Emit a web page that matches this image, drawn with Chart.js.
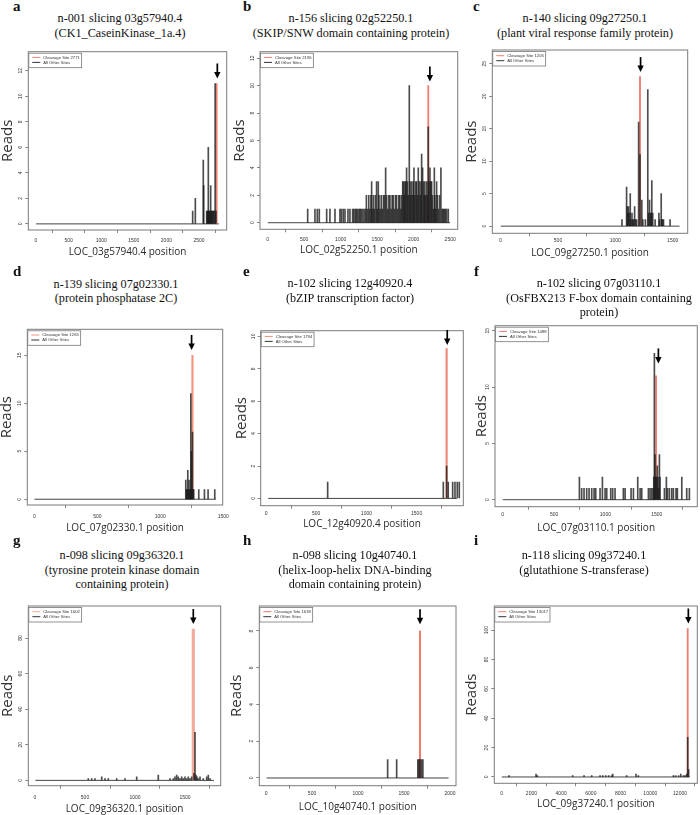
<!DOCTYPE html>
<html><head><meta charset="utf-8">
<script src="https://cdn.jsdelivr.net/npm/chart.js@4.4.0/dist/chart.umd.min.js"></script>
<style>
body{margin:0;background:#fff;width:700px;height:815px;position:relative;overflow:hidden;}
.ttl{position:absolute;text-align:center;font-family:'Liberation Serif',serif;font-size:12.2px;line-height:14.5px;color:#111;white-space:nowrap;transform:translateX(-50%);}
.lt{position:absolute;font-family:'Liberation Serif',serif;font-weight:bold;font-size:15px;line-height:15px;color:#111;}
</style></head><body>
<script>
// ---------- DATA ----------
const panelLetters = ['a','b','c','d','e','f','g','h','i'];
const titleLines = [
  ['n-001 slicing 03g57940.4','(CK1_CaseinKinase_1a.4)'],
  ['n-156 slicing 02g52250.1','(SKIP/SNW domain containing protein)'],
  ['n-140 slicing 09g27250.1','(plant viral response family protein)'],
  ['n-139 slicing 07g02330.1','(protein phosphatase 2C)'],
  ['n-102 slicing 12g40920.4','(bZIP transcription factor)'],
  ['n-102 slicing 07g03110.1','(OsFBX213 F-box domain containing','protein)'],
  ['n-098 slicing 09g36320.1','(tyrosine protein kinase domain','containing protein)'],
  ['n-098 slicing 10g40740.1','(helix-loop-helix DNA-binding','domain containing protein)'],
  ['n-118 slicing 09g37240.1','(glutathione S-transferase)']
];
const xAxisTitles = ['LOC_03g57940.4 position','LOC_02g52250.1 position','LOC_09g27250.1 position',
  'LOC_07g02330.1 position','LOC_12g40920.4 position','LOC_07g03110.1 position',
  'LOC_09g36320.1 position','LOC_10g40740.1 position','LOC_09g37240.1 position'];
const yAxisTitle = 'Reads';
const cleavageLabels = ['Cleavage Site 2771','Cleavage Site 2196','Cleavage Site 1205','Cleavage Site 1265',
  'Cleavage Site 1794','Cleavage Site 1488','Cleavage Site 1602','Cleavage Site 1639','Cleavage Site 13017'];
const otherLabel = 'All Other Sites';

const cleavagePos   = [2771, 2200, 1215, 1255, 1799, 1494, 1583, 1674, 12517];
const cleavageReads = [11, 10, 23, 15, 9.25, 11, 85, 8, 101];
const transcriptStart = [1, 1, 1, 1, 22, 1, 4, 6, 8];
const transcriptEnd   = [2805, 2500, 1560, 1440, 1900, 1825, 1790, 1985, 12655];
const arrowPos = [2781, 2222, 1220, 1248, 1805, 1516, 1583, 1674, 12560];
const arrowTip = [11.4, 10.3, 23.7, 15.55, 9.47, 12.1, 87.9, 8.36, 104.5];

const otherSitesA = [[2403,1],[2444,2],[2566,5],[2572,3],[2618,1],[2628,1],[2636,1],[2643,6],[2652,1],[2662,1],
  [2672,1],[2679,3],[2690,1],[2700,1],[2712,1],[2722,1],[2735,1],[2748,11],[2760,1]];
const otherSitesB = [[548,1],[648,1],[680,1],[707,1],[808,1],[853,1],[922,1],[990,1],[1010,1],[1035,1],[1059,1],
  [1100,1],[1127,1],[1164,1],[1180,1],[1200,1],[1215,1],[1230,1],[1250,1],[1265,1],[1280,1],[1300,1],[1320,1],
  [1340,1],[1352,2],[1370,1],[1385,2],[1400,1],[1415,2],[1424,3],[1435,1],[1447,2],[1460,1],[1475,2],[1492,3],
  [1500,1],[1515,3],[1525,2],[1540,1],[1555,2],[1570,1],[1585,2],[1600,2],[1616,4],[1630,2],[1645,1],[1660,2],
  [1675,2],[1690,1],[1705,2],[1720,2],[1735,1],[1750,2],[1765,2],[1780,1],[1795,2],[1810,2],[1825,1],[1835,2],
  [1850,3],[1860,3],[1870,2],[1880,3],[1892,3],[1903,4],[1915,3],[1925,2],[1940,10],[1950,3],[1960,2],[1972,3],
  [1985,2],[1995,3],[2004,4],[2015,2],[2030,3],[2040,3],[2052,2],[2063,4],[2075,3],[2090,2],[2100,3],[2109,5],
  [2122,4],[2135,3],[2145,2],[2154,3],[2165,2],[2180,3],[2190,2],[2200,7],[2210,3],[2223,4],[2235,3],[2246,3],
  [2258,2],[2270,1],[2283,4],[2291,2],[2300,1],[2314,3],[2325,2],[2340,1],[2355,2],[2373,4],[2390,1],[2405,1],
  [2420,1],[2435,1],[2451,1],[2474,1]];
const otherSitesC = [[1058,1],[1098,6],[1104,3],[1110,2],[1116,3],[1124,2],[1130,5],[1136,1],[1145,2],[1152,1],
  [1160,1],[1168,3],[1176,1],[1185,1],[1203,16],[1215,11],[1231,4],[1240,1],[1262,1],[1283,21],[1290,2],[1298,4],
  [1305,2],[1312,2],[1318,7],[1326,2],[1347,1],[1380,2],[1386,1],[1400,5],[1406,1],[1412,1],[1420,1],[1477,1]];
const otherSitesD = [[1202,2],[1207,1],[1212,1],[1218,3],[1223,1],[1228,2],[1233,1],[1238,1],[1242,11],[1246,5],
  [1250,1],[1255,7],[1260,1],[1265,1],[1305,1],[1350,1],[1379,1],[1432,1]];
const otherSitesE = [[614,1],[1766,1],[1799,2],[1815,1],[1859,1],[1882,1],[1905,1],[1925,1]];
const otherSitesF = [[747,2],[769,1],[792,1],[818,1],[841,1],[867,1],[890,1],[906,1],[948,1],[971,2],[997,1],
  [1013,1],[1052,1],[1071,1],[1094,1],[1175,1],[1192,1],[1250,1],[1273,1],[1315,2],[1338,1],[1354,1],[1419,1],
  [1435,1],[1451,1],[1465,1],[1471,2],[1477,13],[1483,4],[1490,2],[1498,2],[1506,3],[1512,2],[1518,1],[1526,4],
  [1532,2],[1575,1],[1594,2],[1604,1],[1623,1],[1646,1],[1662,1],[1688,1],[1701,1],[1744,2],[1792,1],[1818,1]];
const otherSitesG = [[533,1],[567,1],[600,1],[667,2],[700,1],[733,1],[817,1],[900,1],[1017,2],[1233,3],[1350,1],
  [1383,1],[1400,2],[1417,3],[1433,2],[1450,1],[1467,2],[1483,1],[1500,2],[1517,1],[1533,2],[1550,1],[1567,2],
  [1590,4],[1600,27],[1610,3],[1620,2],[1633,1],[1650,2],[1683,1],[1717,2],[1733,3],[1750,1]];
const otherSitesH = [[1322,1],[1420,1],[1650,1],[1662,1],[1674,1],[1690,1],[1705,1]];
const otherSitesI = [[493,1],[2310,2],[2400,1],[4778,1],[5540,1],[6057,1],[6617,1],[6800,1],[7000,1],[7200,1],
  [7400,1],[7470,2],[8412,1],[9040,2],[9197,1],[11552,1],[11700,1],[11900,1],[12050,2],[12225,1],[12337,1],
  [12450,2],[12517,27],[12580,5]];
const otherSites = [otherSitesA,otherSitesB,otherSitesC,otherSitesD,otherSitesE,otherSitesF,otherSitesG,otherSitesH,otherSitesI];

const xTicks = [[0,500,1000,1500,2000,2500],[0,500,1000,1500,2000,2500],[0,500,1000,1500],[0,500,1000,1500],
  [0,500,1000,1500],[0,500,1000,1500],[0,500,1000,1500],[0,500,1000,1500,2000],[0,2000,4000,6000,8000,10000,12000]];
const yTicks = [[0,2,4,6,8,10,12],[0,2,4,6,8,10,12],[0,5,10,15,20,25],[0,5,10,15],[0,2,4,6,8,10],[0,5,10,15],
  [0,20,40,60,80],[0,2,4,6,8],[0,20,40,60,80,100]];
const xRange = [[-118,2925],[-105,2603],[-73,1631],[-56,1495],[-53,1965],[-75,1895],[-67,1857],[-73,2065],[-498,13163]];
const yRange = [[-0.48,13.5],[-0.48,12.48],[-1.1,27.1],[-0.6,17.7],[-0.45,10.35],[-0.62,15.45],[-3,98],[-0.42,9.36],[-4.3,116.4]];

// ---------- LAYOUT / STYLE ----------
const boxes = [[28.3,51.7,226.7,230],[260,51.7,457.7,229.3],[492.3,50,687.7,233.3],
  [27.3,329.3,222.7,505],[260.7,330.7,463.3,505.7],[495,325.7,697.3,506.7],
  [28.3,606,220.7,785.7],[259.3,606,456,785.7],[494.3,606,697.3,783.3]];
const titleCx = [120,351,585,116,350,599,122,355,584];
const titleY1 = [18.3,18.3,18.3,284,283.3,283.3,555.7,555.7,555.7];
const letterX = [13,243,473,13,243,474,13,243,474];
const letterBase = [12,12,12,277,277,277,546,546,546];
const readsOff = [21,20,20.6,20.6,19,13,21,22.6,22.6];
const xTickGap = [10.7,10,7.5,12,7.6,8.3,12.3,7.6,10];
const xTitleGap = [21.7,20.7,20,23.3,18,21.6,23.3,21,21];
const redColor = ['#ee7f72','#ee7f72','#ee7f72','#f2957f','#ee8a78','#ee7f72','#f3ab9b','#ee6f62','#ee7f72'];
const redWidth = [1.2,1.2,1.2,1.5,1.5,1.2,2.5,1.2,1.2];
const barColor = 'rgba(25,25,25,0.78)';

const mctx = document.createElement('canvas').getContext('2d');
mctx.font = '5px "Liberation Sans"';

const decor = {
  id: 'decor',
  afterDatasetsDraw(chart, args, opts) {
    const i = opts.idx;
    const {ctx, chartArea: ca, scales: {x, y}} = chart;
    ctx.save();
    ctx.strokeStyle = '#7a7a7a'; ctx.lineWidth = 1;
    ctx.strokeRect(ca.left, ca.top, ca.right - ca.left, ca.bottom - ca.top);
    // legend
    ctx.font = '4.2px "Liberation Sans"';
    const tw = Math.max(ctx.measureText(cleavageLabels[i]).width, ctx.measureText(otherLabel).width);
    const lx = ca.left + 0.5, ly = ca.top + 1.5, w = 14.5 + tw + 1.8, h = 14.5;
    ctx.fillStyle = '#fff'; ctx.fillRect(lx, ly, w, h);
    ctx.strokeStyle = '#777'; ctx.lineWidth = 0.8; ctx.strokeRect(lx, ly, w, h);
    ctx.lineWidth = 1;
    ctx.strokeStyle = redColor[i];
    ctx.beginPath(); ctx.moveTo(lx + 3.5, ly + 4.2); ctx.lineTo(lx + 11.5, ly + 4.2); ctx.stroke();
    ctx.strokeStyle = '#333';
    ctx.beginPath(); ctx.moveTo(lx + 3.5, ly + 9.2); ctx.lineTo(lx + 11.5, ly + 9.2); ctx.stroke();
    ctx.fillStyle = '#333'; ctx.textBaseline = 'middle'; ctx.textAlign = 'left';
    ctx.fillText(cleavageLabels[i], lx + 14.5, ly + 4.4);
    ctx.fillText(otherLabel, lx + 14.5, ly + 9.4);
    // arrow
    const ax = x.getPixelForValue(arrowPos[i]);
    const ay = y.getPixelForValue(arrowTip[i]);
    ctx.strokeStyle = '#000'; ctx.lineWidth = 1.7;
    ctx.beginPath(); ctx.moveTo(ax, ay - 15); ctx.lineTo(ax, ay - 5); ctx.stroke();
    ctx.fillStyle = '#000';
    ctx.beginPath(); ctx.moveTo(ax - 3.2, ay - 6.5); ctx.lineTo(ax + 3.2, ay - 6.5); ctx.lineTo(ax, ay); ctx.closePath(); ctx.fill();
    ctx.restore();
  }
};

for (let i = 0; i < 9; i++) {
  const t = document.createElement('div');
  t.className = 'ttl';
  t.style.left = titleCx[i] + 'px';
  t.style.top = (titleY1[i] - 7.25) + 'px';
  t.innerHTML = titleLines[i].join('<br>');
  document.body.appendChild(t);
  const l = document.createElement('div');
  l.className = 'lt';
  l.style.left = letterX[i] + 'px';
  l.style.top = (letterBase[i] - 12.6) + 'px';
  l.textContent = panelLetters[i];
  document.body.appendChild(l);

  const b = boxes[i];
  const cl = Math.floor(b[0]) - 34, ct = Math.floor(b[1]) - 6;
  const cr = Math.ceil(b[2]) + 14, cb = Math.ceil(b[3]) + 34;
  const cv = document.createElement('canvas');
  cv.width = cr - cl; cv.height = cb - ct;
  cv.style.cssText = `position:absolute;left:${cl}px;top:${ct}px;width:${cr-cl}px;height:${cb-ct}px;`;
  document.body.appendChild(cv);

  const yW = b[0] - cl, xH = cb - b[3];
  const widest = Math.max(...yTicks[i].map(v => mctx.measureText(String(v)).width));
  const yPad = 7.3 - 3 - widest / 2;
  const yTitlePad = yW - readsOff[i] - 9;
  const xTickPad = xTickGap[i] - 3 - 3;
  const xTitlePadB = xH - xTitleGap[i] - 6;

  new Chart(cv, {
    type: 'bar',
    data: {
      datasets: [
        {type: 'line', label: 'baseline', data: [{x: transcriptStart[i], y: 0}, {x: transcriptEnd[i], y: 0}],
         borderColor: '#444', borderWidth: 1, pointRadius: 0, order: 3},
        {type: 'bar', label: cleavageLabels[i], data: [{x: cleavagePos[i], y: cleavageReads[i]}],
         backgroundColor: redColor[i], barThickness: redWidth[i], grouped: false, borderWidth: 0, order: 2},
        {type: 'bar', label: otherLabel, data: otherSites[i].map(([x, y]) => ({x, y})),
         backgroundColor: barColor, barThickness: 1, grouped: false, borderWidth: 0, order: 1}
      ]
    },
    options: {
      responsive: false, animation: false, devicePixelRatio: 1,
      layout: {autoPadding: false, padding: {left: 0, top: b[1] - ct, right: cr - b[2], bottom: 0}},
      plugins: {legend: {display: false}, tooltip: {enabled: false}, decor: {idx: i}},
      scales: {
        x: {
          type: 'linear', min: xRange[i][0], max: xRange[i][1], offset: false,
          afterBuildTicks: s => { s.ticks = xTicks[i].map(v => ({value: v})); },
          afterFit: s => { s.height = xH; s.paddingLeft = 0; s.paddingRight = 0; },
          ticks: {autoSkip: false, maxRotation: 0, minRotation: 0, padding: xTickPad, color: '#333',
                  font: {family: 'Liberation Sans', size: 5}, callback: v => String(v)},
          grid: {display: true, drawOnChartArea: false, drawTicks: true, tickLength: 3, color: '#666', lineWidth: 0.8},
          border: {display: false},
          title: {display: true, text: xAxisTitles[i], color: '#2a2a2a',
                  font: {family: 'Open Sans', size: 10, weight: 'normal'}, padding: {top: 0, bottom: xTitlePadB}}
        },
        y: {
          type: 'linear', min: yRange[i][0], max: yRange[i][1],
          afterBuildTicks: s => { s.ticks = yTicks[i].map(v => ({value: v})); },
          afterFit: s => { s.width = yW; s.paddingTop = 0; s.paddingBottom = 0; },
          ticks: {autoSkip: false, minRotation: 90, maxRotation: 90, crossAlign: 'center', padding: yPad,
                  color: '#333', font: {family: 'Liberation Sans', size: 5}, callback: v => String(v)},
          grid: {display: true, drawOnChartArea: false, drawTicks: true, tickLength: 3, color: '#666', lineWidth: 0.8},
          border: {display: false},
          title: {display: true, text: yAxisTitle, color: '#333',
                  font: {family: 'Open Sans', size: 15, weight: 'normal'}, padding: {top: yTitlePad, bottom: 0}}
        }
      }
    },
    plugins: [decor]
  });
}
</script>
</body></html>
